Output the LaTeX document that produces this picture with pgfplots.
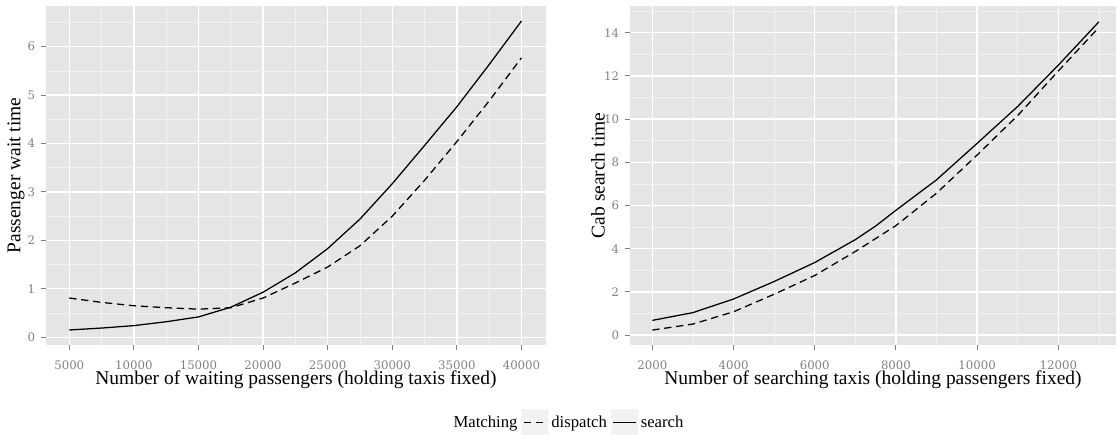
\documentclass[border=0pt]{standalone}
\usepackage{fontspec}
\setmainfont{Liberation Serif}
\newfontfamily\tickfont{DejaVu Serif}
\usepackage{pgfplots}
\pgfplotsset{compat=1.18}
\definecolor{panelGrey}{HTML}{E5E5E5}
\definecolor{minorGrey}{HTML}{F2F2F2}
\definecolor{tickGrey}{HTML}{7F7F7F}
\definecolor{keyGrey}{HTML}{F2F2F2}

\pgfplotsset{
  ggpanel/.style={
    scale only axis,
    height=254.25pt,
    axis background/.style={fill=panelGrey},
    axis line style={draw=none},
    tick pos=left, tick align=outside,
    major tick length=3.75pt, minor tick length=0pt,
    tick style={color=tickGrey, line width=0.75pt},
    grid=both,
    major grid style={white, line width=1pt},
    minor grid style={minorGrey, line width=0.5pt},
    scaled ticks=false,
    /pgf/number format/1000 sep={},
    /pgf/number format/assume math mode=true,
    tick label style={font=\tickfont\fontsize{8.8}{10}\selectfont, color=tickGrey, inner sep=0pt},
    xticklabel style={anchor=base},
    yticklabel style={anchor=east},
    xticklabel shift=14.3pt,
    yticklabel shift=4.3pt,
    label style={font=\fontsize{14.6}{16}\selectfont},
    xlabel style={at={(axis description cs:0.5,-0.118)}, anchor=base},
    legend image code/.code={
      \fill[keyGrey] (0pt,-9.4pt) rectangle (19.5pt,9.4pt);
      \draw[#1] (1.2pt,0pt) -- (18.3pt,0pt);
    },
  },
  dispatchline/.style={black, line width=0.95pt, dash pattern=on 5.5pt off 3.5pt, mark=none},
  searchline/.style={black, line width=0.95pt, solid, mark=none},
}

\begin{document}
\begin{tikzpicture}
\useasboundingbox (0,0) rectangle (837.75pt,326.25pt);

\begin{axis}[ggpanel,
  at={(34.5pt,67.5pt)}, anchor=south west,
  width=375pt,
  xmin=3200, xmax=41900, ymin=-0.16, ymax=6.84,
  xtick={5000,10000,...,40000},
  minor xtick={7500,12500,...,42500},
  ytick={0,1,...,6},
  minor ytick={0.5,1.5,...,6.5},
  xlabel={Number of waiting passengers (holding taxis fixed)},
  ylabel={Passenger wait time},
  ylabel style={at={(axis description cs:-0.06,0.5)}, anchor=center},
  legend columns=3,
  legend cell align=left,
  legend style={at={(1.045,-0.2285)}, anchor=center, draw=none, fill=none,
    font=\fontsize{12.5}{14}\selectfont,
    /tikz/every even column/.append style={column sep=1pt}},
]
\addlegendimage{empty legend}
\addlegendentry{Matching}
\addplot[dispatchline] coordinates {
  (5000,0.81) (7500,0.72) (10000,0.65) (12500,0.61) (15000,0.58)
  (17500,0.61) (20000,0.81) (22500,1.12) (25000,1.45) (27500,1.89)
  (30000,2.50) (32500,3.24) (35000,4.04) (37500,4.88) (40000,5.77)};
\addlegendentry{dispatch}
\addplot[searchline] coordinates {
  (5000,0.15) (7500,0.19) (10000,0.24) (12500,0.32) (15000,0.42)
  (17500,0.62) (20000,0.93) (22500,1.33) (25000,1.83) (27500,2.44)
  (30000,3.17) (32500,3.96) (35000,4.76) (37500,5.63) (40000,6.53)};
\addlegendentry{search}
\end{axis}

\begin{axis}[ggpanel,
  at={(472.5pt,67.5pt)}, anchor=south west,
  width=364.5pt,
  xmin=1450, xmax=13420, ymin=-0.46, ymax=15.24,
  xtick={2000,4000,...,12000},
  minor xtick={3000,5000,...,13000},
  ytick={0,2,...,14},
  minor ytick={1,3,...,15},
  xlabel={Number of searching taxis (holding passengers fixed)},
  ylabel={Cab search time},
  ylabel style={at={(axis description cs:-0.0658,0.5)}, anchor=center},
]
\addplot[dispatchline] coordinates {
  (2000,0.23) (3000,0.51) (4000,1.08) (5000,1.89) (6000,2.76)
  (7000,3.87) (8000,5.07) (9000,6.57) (10000,8.34) (11000,10.17)
  (12000,12.23) (13000,14.25)};
\addplot[searchline] coordinates {
  (2000,0.68) (3000,1.04) (4000,1.67) (5000,2.48) (6000,3.36)
  (7000,4.42) (7500,5.05) (8000,5.78) (9000,7.19) (10000,8.88) (11000,10.59)
  (12000,12.50) (13000,14.51)};
\end{axis}
\end{tikzpicture}
\end{document}
